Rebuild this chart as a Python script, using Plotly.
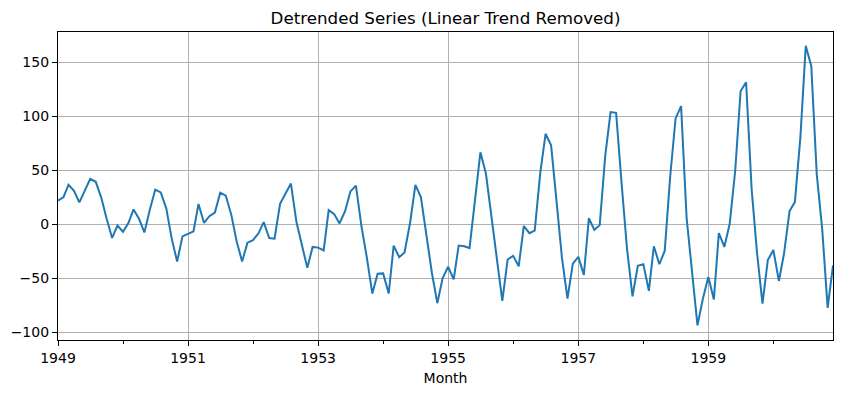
import plotly.graph_objects as go
import pandas as pd

months = pd.date_range("1949-01-01", "1960-12-01", freq="MS").strftime("%Y-%m-%d").tolist()

detrended = [
    21.69, 25.03, 36.38, 30.72, 20.06, 31.40, 41.75, 39.09, 24.43, 4.78, -12.88, -1.54,
    -7.20, 1.15, 13.49, 4.83, -7.83, 13.52, 31.86, 29.20, 14.55, -13.11, -34.77, -11.43,
    -9.08, -6.74, 18.60, 0.95, 7.29, 10.63, 28.97, 26.32, 8.66, -16.00, -34.65, -17.31,
    -14.97, -8.63, 1.72, -12.94, -13.60, 18.74, 28.09, 37.43, 1.77, -18.88, -40.54, -21.20,
    -21.85, -24.51, 12.83, 9.17, 0.52, 11.86, 30.20, 35.55, -2.11, -30.77, -64.43, -46.08,
    -45.74, -64.40, -20.05, -30.71, -26.37, 0.97, 36.32, 24.66, -12.00, -44.65, -73.31, -49.97,
    -39.63, -51.28, -19.94, -20.60, -22.26, 20.09, 66.43, 46.77, 9.12, -31.54, -71.20, -32.86,
    -29.51, -39.17, -1.83, -8.48, -6.14, 47.20, 83.54, 72.89, 20.23, -31.43, -69.08, -36.74,
    -30.40, -47.06, 5.29, -5.37, -1.03, 63.32, 103.66, 103.00, 37.34, -22.31, -66.97, -38.63,
    -37.28, -61.94, -20.60, -37.26, -24.91, 44.43, 97.77, 109.12, 5.46, -42.20, -93.85, -69.51,
    -49.17, -69.83, -8.48, -21.14, 0.20, 49.54, 122.89, 131.23, 32.57, -26.08, -73.74, -33.40,
    -24.06, -52.71, -27.37, 11.97, 20.32, 80.66, 165.00, 146.34, 45.69, -3.97, -77.63, -38.28,
]

y_ticks = [-100, -50, 0, 50, 100, 150]
y_tick_labels = ["\u2212100", "\u221250", "0", "50", "100", "150"]
x_tick_labels = ["1949", "1951", "1953", "1955", "1957", "1959"]
x_tick_vals = [f"{y}-01-01" for y in x_tick_labels]

fig = go.Figure()
fig.add_trace(go.Scatter(
    x=months, y=detrended, mode="lines",
    line=dict(color="#1f77b4", width=2),
    showlegend=False,
))

axis_common = dict(
    showline=True, linecolor="black", linewidth=1.2, mirror=True,
    showgrid=True, gridcolor="#b0b0b0", gridwidth=1,
    ticks="outside", ticklen=5, tickcolor="black", tickwidth=1,
    zeroline=False, automargin=False,
    tickfont=dict(family="DejaVu Sans", size=14, color="black"),
)

fig.update_layout(
    width=842, height=393,
    margin=dict(l=58, r=9, t=32, b=53, autoexpand=False),
    paper_bgcolor="white", plot_bgcolor="white",
    title=dict(text="Detrended Series (Linear Trend Removed)",
               x=0.5, xanchor="center", y=1 - 18 / 393, yanchor="middle",
               xref="paper",
               font=dict(family="DejaVu Sans", size=16.7, color="black")),
    xaxis=dict(
        **axis_common,
        type="date",
        range=[months[0], months[-1]],
        tickmode="array", tickvals=x_tick_vals, ticktext=x_tick_labels,
        minor=dict(dtick="M12", tick0="1949-01-01", ticks="outside", ticklen=3,
                   tickcolor="black", showgrid=False),
        title=dict(text="Month", font=dict(family="DejaVu Sans", size=14, color="black"),
                   standoff=8),
    ),
    yaxis=dict(
        **axis_common,
        range=[-107.4, 177.8],
        tickmode="array", tickvals=y_ticks, ticktext=y_tick_labels,
    ),
)

fig.write_html("out.html",
               config={"displayModeBar": False},
               post_script="document.body.style.margin='0';document.body.style.overflow='hidden';")
